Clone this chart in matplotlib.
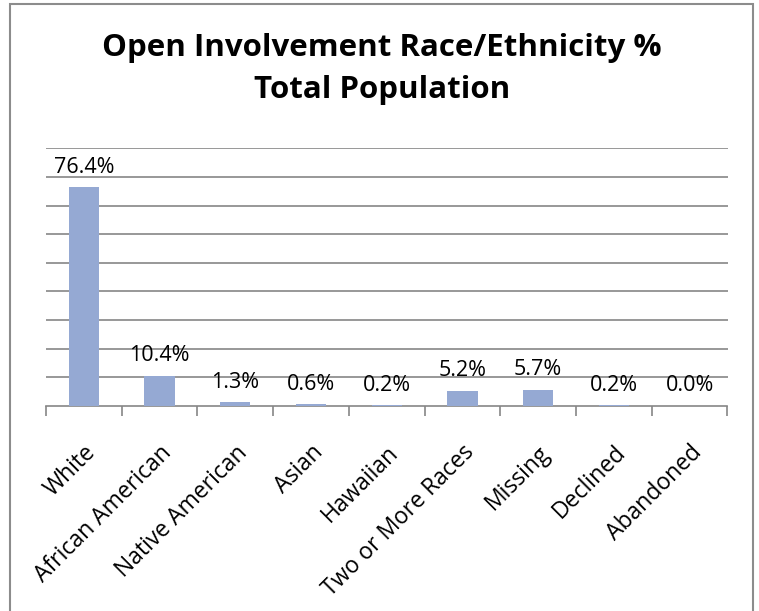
"""
Open Involvement race/ethnicity bar chart.
"""

import matplotlib
matplotlib.use("Agg")
import matplotlib.pyplot as plt
from matplotlib.patches import Rectangle
import numpy as np

categories = ["White", "African American", "Native American", "Asian", "Hawaiian",
              "Two or More Races", "Missing", "Declined", "Abandoned"]
percent = [76.4, 10.4, 1.3, 0.6, 0.2, 5.2, 5.7, 0.2, 0.0]
y_gridlines = [10, 20, 30, 40, 50, 60, 70, 80, 90]

plt.rcParams["font.family"] = ["Open Sans", "DejaVu Sans"]

W, H = 759, 611
fig = plt.figure(figsize=(W / 100, H / 100), dpi=100)
ax = fig.add_axes([46 / W, 1 - 406 / H, (727.5 - 46) / W, (406 - 148.3) / H])

x = np.arange(len(categories))
ax.bar(x, percent, width=0.4, color="#95a9d3", zorder=3)

for xi, v in zip(x, percent):
    ax.annotate(f"{v:.1f}%", (xi, v), xytext=(0, 7), textcoords="offset points",
                ha="center", va="bottom", fontsize=15.5, color="black", zorder=4)

ax.set_xlim(-0.5, len(categories) - 0.5)
ax.set_ylim(0, 90)
ax.set_yticks(y_gridlines)
ax.yaxis.grid(True, color="#868686", linewidth=1.2, zorder=0)
ax.tick_params(axis="y", left=False, labelleft=False)

ax.set_xticks(x)
ax.set_xticklabels(categories, rotation=45, ha="right", rotation_mode="anchor",
                   fontsize=16.5)
ax.tick_params(axis="x", which="major", length=0, pad=25)
ax.set_xticks(np.arange(len(categories) + 1) - 0.5, minor=True)
ax.tick_params(axis="x", which="minor", length=7, width=1.2, color="#868686")

for side in ["top", "right", "left"]:
    ax.spines[side].set_visible(False)
ax.spines["bottom"].set_color("#868686")
ax.spines["bottom"].set_linewidth(1.2)

fig.text(382 / W, 1 - 69 / H, "Open Involvement Race/Ethnicity %\nTotal Population",
         ha="center", va="center", fontsize=22.5, fontweight="bold", linespacing=1.55)

fig.patches.append(Rectangle((10 / W, -0.01), (753 - 10) / W, 1 - 4 / H + 0.01,
                             transform=fig.transFigure, fill=False,
                             edgecolor="#8c8c8c", linewidth=1.5))

fig.savefig("out.png", dpi=100)
